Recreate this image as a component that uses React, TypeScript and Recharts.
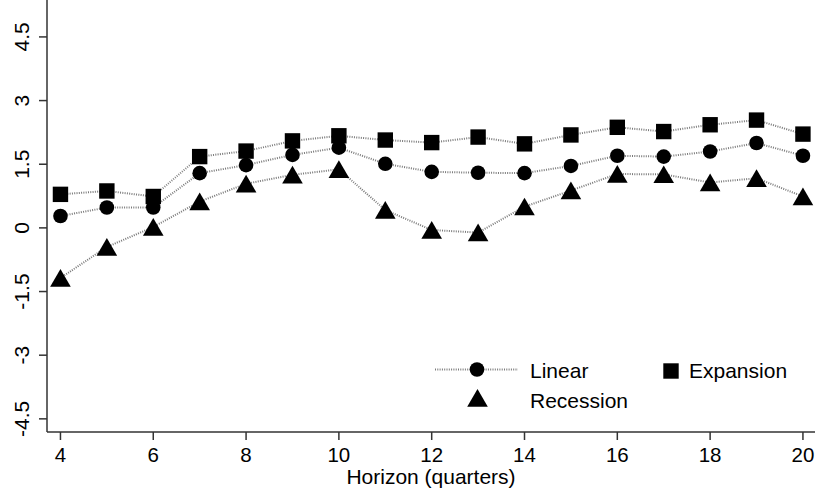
import { LineChart, Line, XAxis, YAxis } from 'recharts';

const horizon = [4, 5, 6, 7, 8, 9, 10, 11, 12, 13, 14, 15, 16, 17, 18, 19, 20];
const linear = [0.28, 0.48, 0.48, 1.29, 1.48, 1.72, 1.89, 1.51, 1.32, 1.3, 1.29, 1.46, 1.7, 1.68, 1.8, 2.0, 1.7];
const expansion = [0.79, 0.87, 0.74, 1.68, 1.81, 2.05, 2.17, 2.07, 2.01, 2.14, 1.98, 2.19, 2.37, 2.27, 2.43, 2.54, 2.21];
const recession = [-1.18, -0.45, 0.02, 0.62, 1.04, 1.25, 1.38, 0.42, -0.05, -0.11, 0.5, 0.88, 1.27, 1.26, 1.07, 1.17, 0.74];
const xTicks = [4, 6, 8, 10, 12, 14, 16, 18, 20];
const yTicks = [-4.5, -3, -1.5, 0, 1.5, 3, 4.5];

const data = horizon.map((h, i) => ({ h, linear: linear[i], expansion: expansion[i], recession: recession[i] }));

const FONT = '"Liberation Sans", Arial, Helvetica, sans-serif';
const DOT_LINE = { stroke: '#7a7a7a', strokeWidth: 2, strokeDasharray: '1 1.3' };

const Circle = (p: any) => <circle key={p.index} cx={p.cx} cy={p.cy} r={7.3} fill="#000" />;
const Square = (p: any) => <rect key={p.index} x={p.cx - 7.7} y={p.cy - 7.7} width={15.4} height={15.4} fill="#000" />;
const Triangle = (p: any) => (
  <path key={p.index} d={`M${p.cx},${p.cy - 9} L${p.cx + 10.3},${p.cy + 8.7} L${p.cx - 10.3},${p.cy + 8.7} Z`} fill="#000" />
);

const YTick = ({ y, payload }: any) => (
  <text x={22} y={y} transform={`rotate(-90 22 ${y})`} textAnchor="middle" dominantBaseline="central" fontSize={21} fontFamily={FONT} fill="#000">
    {payload.value}
  </text>
);

const XTick = ({ x, payload }: any) => (
  <text x={x} y={462} textAnchor="middle" fontSize={20.5} fontFamily={FONT} fill="#000">
    {payload.value}
  </text>
);

export default function App() {
  return (
    <div style={{ position: 'absolute', left: 0, top: 0, width: 815, height: 497, background: '#fff' }}>
      <LineChart width={815} height={497} data={data} margin={{ top: 0, right: 0, bottom: 0, left: 7 }}>
        <XAxis
          dataKey="h"
          type="number"
          domain={[3.71, 20.26]}
          ticks={xTicks}
          allowDataOverflow
          height={65}
          tickSize={8}
          tick={<XTick />}
          axisLine={{ stroke: '#333', strokeWidth: 1.5 }}
          tickLine={{ stroke: '#333', strokeWidth: 1.5 }}
          label={{ value: 'Horizon (quarters)', position: 'insideBottom', offset: 13, fontSize: 21, fontFamily: FONT, fill: '#000' }}
        />
        <YAxis
          type="number"
          domain={[-4.81, 5.37]}
          ticks={yTicks}
          allowDataOverflow
          width={40}
          tickSize={8}
          tick={<YTick />}
          axisLine={{ stroke: '#333', strokeWidth: 1.5 }}
          tickLine={{ stroke: '#333', strokeWidth: 1.5 }}
        />
        <Line dataKey="recession" type="linear" {...DOT_LINE} dot={Triangle} activeDot={false} isAnimationActive={false} />
        <Line dataKey="linear" type="linear" {...DOT_LINE} dot={Circle} activeDot={false} isAnimationActive={false} />
        <Line dataKey="expansion" type="linear" {...DOT_LINE} dot={Square} activeDot={false} isAnimationActive={false} />
      </LineChart>
      <svg width={815} height={497} style={{ position: 'absolute', left: 0, top: 0, pointerEvents: 'none' }}>
        <line x1={435} x2={518} y1={369.5} y2={369.5} {...DOT_LINE} />
        <circle cx={477} cy={369.5} r={7.3} fill="#000" />
        <text x={530} y={378} fontSize={21} fontFamily={FONT} fill="#000">Linear</text>
        <rect x={663.3} y={363.3} width={15.4} height={15.4} fill="#000" />
        <text x={689} y={378} fontSize={21} fontFamily={FONT} fill="#000">Expansion</text>
        <path d="M477.5,389 L487.8,406.7 L467.2,406.7 Z" fill="#000" />
        <text x={530} y={408} fontSize={21} fontFamily={FONT} fill="#000">Recession</text>
      </svg>
    </div>
  );
}
